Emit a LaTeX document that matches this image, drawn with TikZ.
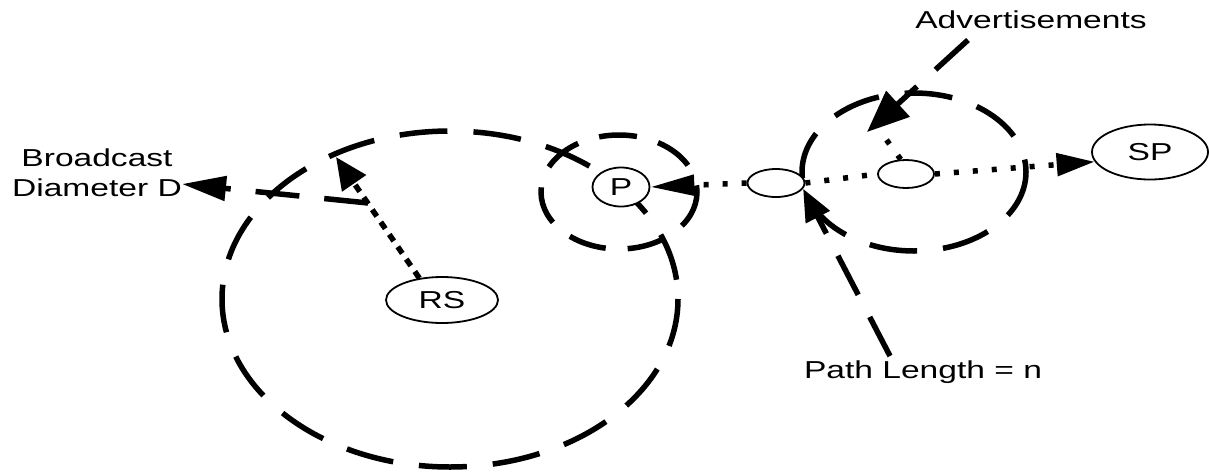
\documentclass[tikz,border=0pt]{standalone}
\usepackage{fontspec}
\setmainfont{Liberation Sans}
\usepackage{graphicx}
\usetikzlibrary{arrows.meta,shapes.geometric}
\newcommand{\stx}[1]{\scalebox{1.37}[1]{#1}}
\begin{document}
\begin{tikzpicture}[x=1pt,y=-1pt,
  lbl/.style={font=\fontsize{24.5}{30}\selectfont, inner sep=0pt, anchor=base},
  nd/.style={ellipse, draw, line width=1.8pt, fill=white, inner sep=0pt,
             font=\fontsize{24.5}{30}\selectfont},
  ring/.style={line width=5.5pt, dash pattern=on 48pt off 26pt},
  smallring/.style={line width=5.5pt, dash pattern=on 38pt off 22pt},
  dashline/.style={line width=5.5pt, dash pattern=on 44pt off 25pt},
  dotline/.style={line width=5.5pt, dash pattern=on 5pt off 14pt},
  densedot/.style={line width=5.5pt, dash pattern=on 8pt off 7pt},
]
\useasboundingbox (0,0) rectangle (1210,472);

% dashed rings
\draw[ring] (450,299) ellipse [x radius=228, y radius=168];
\draw[smallring] (619,192) ellipse [x radius=78, y radius=57];
\draw[ring] (914,172) ellipse [x radius=112, y radius=79];

% nodes
\node[nd, minimum width=57pt, minimum height=39pt] (P) at (621,187) {\stx{P}};
\node[nd, minimum width=57pt, minimum height=28pt] (M) at (776,183) {};
\node[nd, minimum width=56pt, minimum height=28pt] (I) at (906,174) {};
\node[nd, minimum width=116pt, minimum height=55pt] (SP) at (1150,152) {\stx{SP}};
\node[nd, minimum width=112pt, minimum height=46pt] (RS) at (442,300) {\stx{RS}};

% labels
\node[lbl] (bd1) at (97,166) {\stx{Broadcast}};
\node[lbl] (bd2) at (97,196) {\stx{Diameter D}};
\node[lbl] (ads) at (1031,28) {\stx{Advertisements}};
\node[lbl] (pl) at (923,378) {\stx{Path Length = n}};

% free ends
\coordinate (dstart) at (368,203);
\coordinate (dtip) at (182,184);
\coordinate (rstip) at (336,157);
\coordinate (adstart) at (968,40);
\coordinate (adtip) at (867,132);
\coordinate (plstart) at (890,356);
\coordinate (adend) at (880,131);

% connectors
\draw[dashline, -{Triangle[length=44pt,width=24pt]}] (dstart) -- (dtip);
\draw[densedot, -{Triangle[length=32pt,width=28pt]}] (RS.136) -- (rstip);
\draw[dotline, -{Triangle[length=44pt,width=20pt]}] (M.west) -- (P.east);
\draw[dotline] (M.east) -- (I.west);
\draw[dotline, -{Triangle[length=38pt,width=22pt]}] (I.east) -- (SP.190);
\draw[dotline] (I.110) -- (adend);
\draw[dashline, -{Triangle[length=42pt,width=34pt]}] (adstart) -- (adtip);
\draw[dashline, -{Triangle[length=32pt,width=26pt]}] (plstart) -- (M.-12);
\end{tikzpicture}
\end{document}
